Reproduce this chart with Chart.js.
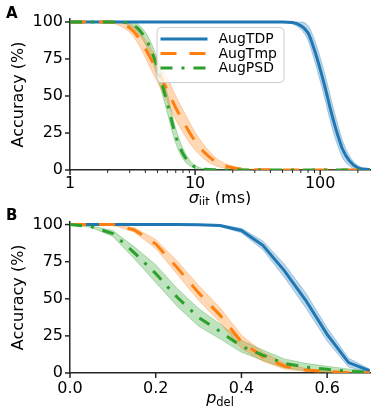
<!DOCTYPE html>
<html>
<head>
<meta charset="utf-8">
<script src="https://cdn.jsdelivr.net/npm/chart.js@4.4.1/dist/chart.umd.min.js"></script>
<style>
  body { margin: 0; background: #fff; }
  canvas { display: block; }
</style>
</head>
<body>
<canvas id="chartA" width="391" height="205"></canvas>
<canvas id="chartB" width="391" height="206"></canvas>
<script>
const seriesNames = ['AugTDP', 'AugTmp', 'AugPSD'];
const lineColors = ['#1f77b4', '#ff7f0e', '#2ca02c'];
const bandColors = ['rgba(31,119,180,0.3)', 'rgba(255,127,14,0.3)', 'rgba(44,160,44,0.3)'];
const lineDashes = [[], [16, 13], [12, 9, 3, 9]];

// panel A: timing jitter (ms), log axis
const jitMs = [1, 2, 2.5, 3, 3.5, 4, 4.5, 5, 6, 7, 8, 9, 10, 12, 15, 20, 25, 30, 40, 50,
               60, 70, 80, 90, 100, 110, 120, 130, 140, 150, 170, 200, 250];
const tdpJit = [100, 100, 100, 100, 100, 100, 100, 100, 100, 100, 100, 100, 100, 100, 100, 100, 100, 100, 100, 100,
                99.7, 97.5, 92.5, 81, 68, 55, 42, 31, 22, 14.5, 6.5, 1.5, 0.2];
const tdpJitSd = [0, 0, 0, 0, 0, 0, 0, 0, 0, 0, 0, 0, 0, 0, 0, 0, 0, 0, 0, 0.3,
                  1, 2.5, 5, 7, 8, 8.5, 8.5, 8, 7, 6, 3.5, 1.5, 0.3];
const tmpJit = [100, 100, 99, 96, 90, 82, 74, 67, 54, 42, 33, 25.5, 19.5, 11.5, 5, 1.5, 0.5, 0.2, 0.1, 0,
                0, 0, 0, 0, 0, 0, 0, 0, 0, 0, 0, 0, 0];
const tmpJitSd = [0, 0.3, 1.5, 3, 4.5, 6, 7, 7.5, 8, 8, 7.5, 7, 6, 4.5, 2.5, 1, 0.4, 0.2, 0, 0,
                  0, 0, 0, 0, 0, 0, 0, 0, 0, 0, 0, 0, 0];
const psdJit = [100, 100, 100, 99, 95.5, 89, 80, 69, 45, 23, 11, 5, 2, 0.5, 0.1, 0, 0, 0, 0, 0,
                0, 0, 0, 0, 0, 0, 0, 0, 0, 0, 0, 0, 0];
const psdJitSd = [0, 0, 0.5, 1.5, 3, 4, 5, 6, 6.5, 5, 3.5, 2, 1, 0.3, 0, 0, 0, 0, 0, 0,
                  0, 0, 0, 0, 0, 0, 0, 0, 0, 0, 0, 0, 0];
const jitTicks = [1, 2, 3, 4, 5, 6, 7, 8, 9, 10, 20, 30, 40, 50, 60, 70, 80, 90, 100, 200];
const jitLabels = [1, 10, 100];

// panel B: deletion probability
const pDel = [0, 0.05, 0.1, 0.15, 0.2, 0.25, 0.3, 0.35, 0.4, 0.45, 0.5, 0.55, 0.6, 0.65, 0.7];
const tdpDel = [100, 100, 100, 100, 100, 100, 99.9, 99.3, 96, 86, 69, 49, 26, 7, 1.5];
const tdpDelSd = [0, 0, 0, 0, 0, 0, 0.2, 0.6, 1.5, 3, 4.5, 5, 4.5, 3, 1];
const tmpDel = [100, 100, 100, 96.4, 87, 71, 54, 39, 21, 11, 4.7, 2, 1, 0.3, 0];
const tmpDelSd = [0, 0, 0.3, 1.5, 3, 4.5, 5, 5, 4.5, 3, 2, 1, 0.5, 0.3, 0];
const psdDel = [100, 98.5, 94, 81, 67, 51, 37.5, 28, 18, 12, 6.5, 4, 2.5, 1.2, 0.5];
const psdDelSd = [0, 0.5, 2, 4, 6, 6, 6, 5, 4, 3.5, 3, 2.5, 2, 1.5, 1];
const delTicks = [0, 0.2, 0.4, 0.6];

const accTicks = [0, 25, 50, 75, 100];

const FONT = 'DejaVu Sans';
const AXIS = '#262626';
Chart.defaults.font.family = FONT;
Chart.defaults.color = '#000';

function buildDatasets(xs, means, sds, smooth) {
  const sets = [];
  means.forEach((m, i) => {
    const hi = m.map((v, k) => ({ x: xs[k], y: Math.min(100, v + sds[i][k]) }));
    const lo = m.map((v, k) => ({ x: xs[k], y: Math.max(0, v - sds[i][k]) }));
    const common = {
      borderColor: bandColors[i], borderWidth: 1, pointRadius: 0,
      cubicInterpolationMode: smooth ? 'monotone' : 'default', tension: 0, order: 10 + i
    };
    sets.push({ ...common, data: hi, backgroundColor: bandColors[i], fill: '+1' });
    sets.push({ ...common, data: lo, fill: false });
  });
  means.forEach((m, i) => {
    sets.push({
      label: seriesNames[i],
      data: m.map((v, k) => ({ x: xs[k], y: v })),
      borderColor: lineColors[i], borderWidth: 3, borderDash: lineDashes[i],
      pointRadius: 0, fill: false, tension: 0,
      cubicInterpolationMode: smooth ? 'monotone' : 'default',
      order: 3 - i
    });
  });
  return sets;
}

// ticks, axis titles, panel letter and legend
const decor = {
  id: 'decor',
  afterDraw(chart, args, opts) {
    const { ctx, chartArea: area } = chart;
    const x = chart.scales.x, y = chart.scales.y;
    ctx.save();
    ctx.strokeStyle = AXIS;
    y.ticks.forEach(t => {
      const py = y.getPixelForValue(t.value);
      ctx.lineWidth = 1.5;
      ctx.beginPath(); ctx.moveTo(area.left - 5, py); ctx.lineTo(area.left, py); ctx.stroke();
    });
    x.ticks.forEach(t => {
      const px = x.getPixelForValue(t.value);
      const major = opts.majors.includes(t.value);
      ctx.lineWidth = major ? 1.5 : 1;
      ctx.beginPath(); ctx.moveTo(px, area.bottom); ctx.lineTo(px, area.bottom + (major ? 5 : 3)); ctx.stroke();
    });

    ctx.fillStyle = '#000';
    // y title
    ctx.save();
    ctx.translate(23, (area.top + area.bottom) / 2);
    ctx.rotate(-Math.PI / 2);
    ctx.textAlign = 'center';
    ctx.textBaseline = 'alphabetic';
    ctx.font = '16px "' + FONT + '"';
    ctx.fillText('Accuracy (%)', 0, 0);
    ctx.restore();

    // x title with subscript
    const parts = [
      { t: opts.sym, f: 'italic 16px "' + FONT + '"', dy: 0 },
      { t: opts.sub, f: '11.5px "' + FONT + '"', dy: 2.5 },
      { t: opts.unit, f: '16px "' + FONT + '"', dy: 0 }
    ];
    let total = 0;
    parts.forEach(p => { ctx.font = p.f; p.w = ctx.measureText(p.t).width; total += p.w; });
    let cx = (area.left + area.right) / 2 - total / 2;
    const base = area.bottom + opts.titleOffset;
    ctx.textAlign = 'left';
    ctx.textBaseline = 'alphabetic';
    parts.forEach(p => { ctx.font = p.f; ctx.fillText(p.t, cx, base + p.dy); cx += p.w; });

    // panel letter
    ctx.font = 'bold 15px "' + FONT + '"';
    ctx.fillText(opts.letter, 6, opts.letterY);

    if (opts.legend) {
      const lx = area.left + 87, ly = area.top + 8.5, lw = 127, lh = 55;
      ctx.beginPath();
      ctx.roundRect(lx, ly, lw, lh, 4);
      ctx.fillStyle = 'rgba(255,255,255,0.8)';
      ctx.fill();
      ctx.strokeStyle = '#cccccc';
      ctx.lineWidth = 1;
      ctx.stroke();
      const rows = chart.data.datasets.filter(d => d.label);
      rows.forEach((d, i) => {
        const ry = ly + 11.5 + i * 14.5;
        ctx.strokeStyle = d.borderColor;
        ctx.lineWidth = 3;
        ctx.setLineDash(d.borderDash);
        ctx.beginPath(); ctx.moveTo(lx + 3.5, ry); ctx.lineTo(lx + 50.5, ry); ctx.stroke();
        ctx.setLineDash([]);
        ctx.fillStyle = '#000';
        ctx.font = '14px "' + FONT + '"';
        ctx.textBaseline = 'middle';
        ctx.fillText(d.label, lx + 61.5, ry + 0.5);
      });
    }
    ctx.restore();
  }
};

function yAxis() {
  return {
    min: 0, max: 102,
    afterBuildTicks: s => { s.ticks = accTicks.map(v => ({ value: v })); },
    afterFit: s => { s.width = 70; },
    grid: { display: false, drawTicks: false },
    border: { color: AXIS, width: 1.5 },
    ticks: { padding: 7, font: { size: 16 }, color: '#000' }
  };
}

new Chart(document.getElementById('chartA'), {
  type: 'line',
  data: { datasets: buildDatasets(jitMs, [tdpJit, tmpJit, psdJit], [tdpJitSd, tmpJitSd, psdJitSd], true) },
  options: {
    responsive: false, animation: false, events: [],
    layout: { padding: { top: 19, right: 21, left: 0, bottom: 0 } },
    plugins: {
      legend: { display: false }, tooltip: { enabled: false },
      decor: { majors: jitLabels, sym: 'σ', sub: 'jit', unit: ' (ms)', titleOffset: 33, letter: 'A', letterY: 17.5, legend: true }
    },
    scales: {
      x: {
        type: 'logarithmic', min: 1, max: 250,
        afterBuildTicks: s => { s.ticks = jitTicks.map(v => ({ value: v })); },
        afterFit: s => { s.height = 35; },
        grid: { display: false, drawTicks: false },
        border: { color: AXIS, width: 1.5 },
        ticks: {
          autoSkip: false, maxRotation: 0, padding: 4, font: { size: 16 }, color: '#000',
          callback: v => jitLabels.includes(v) ? String(v) : ''
        }
      },
      y: yAxis()
    }
  },
  plugins: [decor]
});

new Chart(document.getElementById('chartB'), {
  type: 'line',
  data: { datasets: buildDatasets(pDel, [tdpDel, tmpDel, psdDel], [tdpDelSd, tmpDelSd, psdDelSd], false) },
  options: {
    responsive: false, animation: false, events: [],
    layout: { padding: { top: 16, right: 21, left: 0, bottom: 0 } },
    plugins: {
      legend: { display: false }, tooltip: { enabled: false },
      decor: { majors: delTicks, sym: 'p', sub: 'del', unit: '', titleOffset: 30, letter: 'B', letterY: 14.5, legend: false }
    },
    scales: {
      x: {
        type: 'linear', min: 0, max: 0.7,
        afterBuildTicks: s => { s.ticks = delTicks.map(v => ({ value: v })); },
        afterFit: s => { s.height = 38; },
        grid: { display: false, drawTicks: false },
        border: { color: AXIS, width: 1.5 },
        ticks: {
          autoSkip: false, maxRotation: 0, padding: 6, font: { size: 16 }, color: '#000',
          callback: v => v.toFixed(1)
        }
      },
      y: yAxis()
    }
  },
  plugins: [decor]
});
</script>
</body>
</html>
